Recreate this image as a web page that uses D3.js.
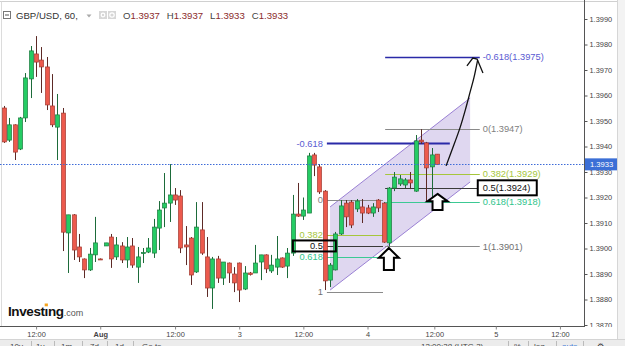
<!DOCTYPE html>
<html><head><meta charset="utf-8">
<script src="https://cdn.jsdelivr.net/npm/d3@7"></script>
<style>body{margin:0;background:#fff} svg{display:block} text{font-family:"Liberation Sans",Arial,sans-serif}</style>
</head><body><svg id="c" width="625" height="346"></svg>
<script>
// ---------- data ----------
const opens  = [1.39551,1.39425,1.39485,1.39390,1.39512,1.39665,1.39763,1.39739,1.39712,1.39559,
1.39476,1.39531,1.39061,1.39132,1.39006,1.38959,1.38916,1.38975,1.38959,1.39010,
1.39045,1.38967,1.39010,1.38955,1.39010,1.38927,1.38982,1.38986,1.38982,1.39080,
1.39159,1.39178,1.39210,1.39206,1.39014,1.39041,1.38908,1.39073,1.38967,1.38845,
1.38959,1.38884,1.38943,1.38900,1.38943,1.38841,1.38904,1.38904,1.38947,1.38975,
1.38912,1.38927,1.38963,1.38931,1.38982,1.39135,1.39127,1.39139,1.39367,1.39320,
1.39225,1.38876,1.38916,1.39057,1.39178,1.39182,1.39155,1.39163,1.39159,1.39139,
1.39190,1.39178,1.39022,1.39237,1.39253,1.39249,1.39269,1.39225,1.39425,1.39414,
1.39320,1.3937];
const highs  = [1.39559,1.39512,1.39487,1.39516,1.39688,1.39794,1.39833,1.39790,1.39751,1.39684,
1.39606,1.39551,1.39132,1.39135,1.39057,1.38961,1.39002,1.39124,1.38961,1.39022,
1.39057,1.39045,1.39025,1.39045,1.39041,1.39006,1.39002,1.39041,1.39116,1.39186,
1.39296,1.39331,1.39237,1.39229,1.39088,1.39045,1.39182,1.39182,1.39045,1.38967,
1.38971,1.38947,1.38945,1.38927,1.38945,1.38931,1.38908,1.39014,1.38975,1.38977,
1.38975,1.39049,1.38965,1.39002,1.39210,1.39257,1.39200,1.39375,1.39375,1.39331,
1.39229,1.38943,1.39065,1.39190,1.39190,1.39190,1.39194,1.39194,1.39171,1.39178,
1.39194,1.39182,1.39241,1.39300,1.39288,1.39276,1.39300,1.39445,1.39468,1.39418,
1.39394,1.3937];
const lows   = [1.39414,1.39418,1.39347,1.39386,1.39496,1.39590,1.39673,1.39610,1.39543,1.39476,
1.39347,1.38990,1.38904,1.38955,1.38947,1.38884,1.38912,1.38947,1.38955,1.39010,
1.38924,1.38955,1.38943,1.38924,1.38924,1.38865,1.38943,1.38982,1.38963,1.38994,
1.39084,1.39104,1.39171,1.38982,1.38935,1.38857,1.38904,1.38975,1.38810,1.38763,
1.38865,1.38857,1.38865,1.38829,1.38790,1.38837,1.38894,1.38904,1.38876,1.38904,
1.38904,1.38896,1.38924,1.38884,1.38971,1.39124,1.39112,1.39139,1.39284,1.39214,
1.38837,1.38849,1.38914,1.39053,1.39084,1.39080,1.39143,1.39100,1.39135,1.39124,
1.39143,1.39022,1.39008,1.39225,1.39245,1.39237,1.39233,1.39222,1.39410,1.39186,
1.39167,1.3933];
const closes = [1.39418,1.39485,1.39378,1.39512,1.39669,1.39775,1.39731,1.39712,1.39563,1.39485,
1.39524,1.39064,1.39132,1.38994,1.38967,1.38916,1.38978,1.39022,1.38957,1.39022,
1.38959,1.39014,1.38955,1.39006,1.38935,1.38967,1.38984,1.39002,1.39084,1.39151,
1.39178,1.39210,1.39190,1.39002,1.39006,1.38896,1.39084,1.38982,1.38845,1.38959,
1.38884,1.38947,1.38904,1.38865,1.38837,1.38904,1.38898,1.38943,1.38975,1.38920,
1.38935,1.38959,1.38927,1.38982,1.39135,1.39127,1.39151,1.39363,1.39327,1.39222,
1.38873,1.38935,1.39057,1.39167,1.39124,1.39092,1.39186,1.39139,1.39139,1.39163,
1.39159,1.39025,1.39237,1.39280,1.39273,1.39269,1.39257,1.39422,1.39418,1.39316,
1.39367,1.3933];

const xTickPos    = [6,18,32,44,56,68,80.5,92,104];
const xTickLabels = ["12:00","Aug","12:00","3","12:00","4","12:00","5","12:00"];
const yTicks      = [1.3870,1.3880,1.3890,1.3900,1.3910,1.3920,1.3930,1.3940,1.3950,1.3960,1.3970,1.3980,1.3990];
const lastPrice   = 1.3933;
const headerSymbol= "GBP/USD, 60,";
const headerOHLC  = [["O","1.3937"],["H","1.3937"],["L","1.3933"],["C","1.3933"]];

const fibLevels   = [-0.618,0,0.382,0.5,0.618,1];
const fibLeft     = {p0:1.3919, p1:1.3883, i0:60.4, i1:70.9};
const fibRight    = {p0:1.39468, p1:1.39008, i0:71.3, i1:89.0};
const fibLeftBlueEnd = 83.4;

const channelIdx   = [61,61,87.2,87.2];
const channelPrice = [1.38837,1.39163,1.39590,1.39261];

const curveIdx   = [82.7,83.8,85.3,86.4,87.2,87.9,88.6];
const curvePrice = [1.39324,1.39386,1.39473,1.39551,1.39614,1.39669,1.39739];
const headIdx    = [86.6,87.7,88.5,89.6];
const headPrice  = [1.39716,1.39747,1.39743,1.39688];

const upArrowIdx  = [72.0,81.1];
const upArrowTip  = [1.39002,1.39214];
const upArrowBase = [1.38916,1.39151];

const toolbarLeft  = ["10y","1y","1m","7d","1d","Go to..."];
const toolbarRight = ["12:00:38 (UTC-3)","%","log","auto","⚙"];

// ---------- scales ----------
const svg = d3.select("#c");
const x = d3.scaleLinear().domain([-0.75,108.5]).range([0,584]);
const y = d3.scaleLinear().domain([1.3870,1.3990]).range([325,19]);

svg.append("rect").attr("width",625).attr("height",346).attr("fill","#fff");
svg.append("rect").attr("x",617).attr("y",0).attr("width",8).attr("height",340).attr("fill","#f3f3f3");
svg.append("line").attr("x1",617.5).attr("x2",617.5).attr("y1",0).attr("y2",340).attr("stroke","#d6d6d6");
svg.append("line").attr("x1",0).attr("x2",617).attr("y1",1.5).attr("y2",1.5).attr("stroke","#d0d0d0");
svg.append("line").attr("x1",1.5).attr("x2",1.5).attr("y1",1.5).attr("y2",327).attr("stroke","#dcdcdc");

// ---------- header ----------
const hdr = svg.append("g");
hdr.append("rect").attr("x",3.5).attr("y",11.5).attr("width",7).attr("height",7).attr("fill","none").attr("stroke","#777");
hdr.append("line").attr("x1",5).attr("x2",9).attr("y1",15).attr("y2",15).attr("stroke","#555");
hdr.append("text").attr("x",16).attr("y",19).attr("font-size",9.6).attr("fill","#333").text(headerSymbol);
hdr.append("path").attr("d","M86.5,14.5 L91.5,14.5 L89,17.5Z").attr("fill","#aaa");
[99,108].forEach((ix,k)=>{
  hdr.append("rect").attr("x",ix).attr("y",11).attr("width",8).attr("height",8).attr("fill","#d7d7d7");
  hdr.append("circle").attr("cx",ix+4).attr("cy",15).attr("r",k?2.2:1.8).attr("fill","none").attr("stroke","#fff").attr("stroke-width",1.2);
});
const ht = hdr.append("text").attr("x",123).attr("y",19).attr("font-size",9.6);
headerOHLC.forEach((d,k)=>{
  ht.append("tspan").attr("fill","#444").attr("dx",k?7:0).text(d[0]);
  ht.append("tspan").attr("fill","#8b2c2c").text(d[1]);
});

// ---------- channel ----------
const chPts = channelIdx.map((v,i)=>[x(v),y(channelPrice[i])]);
svg.append("path").attr("d","M"+chPts.map(p=>p.join(",")).join("L")+"Z")
  .attr("fill","#c9bde6").attr("fill-opacity",0.6);
svg.append("line").attr("x1",chPts[0][0]).attr("y1",chPts[0][1]).attr("x2",chPts[3][0]).attr("y2",chPts[3][1]).attr("stroke","#9a80d4").attr("stroke-width",1);
svg.append("line").attr("x1",chPts[1][0]).attr("y1",chPts[1][1]).attr("x2",chPts[2][0]).attr("y2",chPts[2][1]).attr("stroke","#9a80d4").attr("stroke-width",1);

// ---------- fib lines ----------
const fibColor = {"-0.618":"#2a2aa8","0":"#8a8a8a","0.382":"#a6c63c","0.5":"#3a3a3a","0.618":"#3cc994","1":"#8a8a8a"};
const fibText  = {"-0.618":"#5a5ad2","0":"#808080","0.382":"#a6c63c","0.5":"#111","0.618":"#30c48c","1":"#707070"};
const fibPrice = (f,l)=> f.p0 - l*(f.p0-f.p1);
fibLevels.forEach(l=>{
  const yy = Math.round(y(fibPrice(fibRight,l)))+0.5;
  svg.append("line").attr("x1",x(fibRight.i0)).attr("x2",x(fibRight.i1)).attr("y1",yy).attr("y2",yy)
    .attr("stroke",fibColor[String(l)]).attr("stroke-width",l===-0.618?1.5:1.2);
});
fibLevels.forEach(l=>{
  const yy = Math.round(y(fibPrice(fibLeft,l)))+0.5;
  const end = l===-0.618 ? fibLeftBlueEnd : fibLeft.i1;
  svg.append("line").attr("x1",x(fibLeft.i0)).attr("x2",x(end)).attr("y1",yy).attr("y2",yy)
    .attr("stroke",fibColor[String(l)]).attr("stroke-width",l===-0.618?2:1.2);
});

// ---------- candles ----------
const cw = 4;
const cg = svg.append("g");
closes.forEach((c,i)=>{
  const o=opens[i], up = c>=o;
  const cx = Math.round(x(i))+0.5;
  const wickCol = up? "#1d6b3a" : "#5d2a26";
  cg.append("line").attr("x1",cx).attr("x2",cx).attr("y1",y(highs[i])).attr("y2",y(lows[i])).attr("stroke",wickCol).attr("stroke-width",1);
  const top = y(Math.max(o,c)), bot = y(Math.min(o,c));
  cg.append("rect").attr("x",cx-cw/2).attr("y",top).attr("width",cw).attr("height",Math.max(1,bot-top))
    .attr("fill",up?"#25cc64":"#ec5a4d").attr("stroke",up?"#1c7a3e":"#a33a30").attr("stroke-width",0.7);
});

// ---------- last price dotted line ----------
svg.append("line").attr("x1",0).attr("x2",584).attr("y1",Math.round(y(lastPrice))+0.5).attr("y2",Math.round(y(lastPrice))+0.5)
  .attr("stroke","#3d6bd8").attr("stroke-width",1).attr("stroke-dasharray","1.5,1.5");

// ---------- fib labels ----------
fibLevels.forEach(l=>{
  const p = fibPrice(fibRight,l), yy = y(p);
  const label = String(l)+"("+p.toFixed(4)+")";
  const tx = x(fibRight.i1)+3;
  if (l===0.5){
    svg.append("rect").attr("x",tx-5).attr("y",yy-7.5).attr("width",59).attr("height",15).attr("fill","#fff").attr("stroke","#000").attr("stroke-width",2);
  }
  svg.append("text").attr("x",tx).attr("y",yy).attr("dy","0.35em").attr("font-size",9.3).attr("fill",fibText[String(l)]).text(label);
});
fibLevels.forEach(l=>{
  const p = fibPrice(fibLeft,l), yy = y(p);
  const tx = x(fibLeft.i0)-4;
  if (l===0.5){
    svg.append("rect").attr("x",tx-30).attr("y",yy-5.5).attr("width",43).attr("height",11).attr("fill","none").attr("stroke","#000").attr("stroke-width",2);
  }
  svg.append("text").attr("x",tx).attr("y",yy).attr("dy","0.35em").attr("text-anchor","end").attr("font-size",9.3).attr("fill",fibText[String(l)]).text(String(l));
});

// ---------- hand-drawn arrow ----------
const ln = d3.line().curve(d3.curveCatmullRom);
svg.append("path").attr("d",ln(curveIdx.map((v,i)=>[x(v),y(curvePrice[i])]))).attr("fill","none").attr("stroke","#111").attr("stroke-width",1.3);
svg.append("path").attr("d",d3.line()(headIdx.map((v,i)=>[x(v),y(headPrice[i])]))).attr("fill","none").attr("stroke","#111").attr("stroke-width",1.3);

// ---------- up arrows ----------
upArrowIdx.forEach((v,i)=>{
  const cx = x(v), ty = y(upArrowTip[i]), by = y(upArrowBase[i]);
  const hw = 10, sw = 5, hh = (by-ty)*0.45;
  const d = `M${cx},${ty}L${cx+hw},${ty+hh}L${cx+sw},${ty+hh}L${cx+sw},${by}L${cx-sw},${by}L${cx-sw},${ty+hh}L${cx-hw},${ty+hh}Z`;
  svg.append("path").attr("d",d).attr("fill","#fff").attr("stroke","#000").attr("stroke-width",2).attr("stroke-linejoin","miter");
});

// ---------- axes ----------
svg.append("defs").append("clipPath").attr("id","yclip").append("rect").attr("x",-5).attr("y",0).attr("width",45).attr("height",327);
const ya = svg.append("g").attr("transform","translate(584.5,0)").append("g").attr("clip-path","url(#yclip)")
  .call(d3.axisRight(y).tickValues(yTicks).tickFormat(d3.format(".4f")).tickSize(3).tickPadding(2));
ya.select(".domain").remove();
ya.selectAll("text").attr("font-size",7.4).attr("fill","#444").attr("font-family","Liberation Sans, Arial, sans-serif");
ya.selectAll(".tick line").attr("stroke","#555");
svg.append("line").attr("x1",584.5).attr("x2",584.5).attr("y1",0).attr("y2",327).attr("stroke","#555");

const xa = svg.append("g").attr("transform","translate(0,326.5)")
  .call(d3.axisBottom(x).tickValues(xTickPos).tickFormat((d,i)=>xTickLabels[i]).tickSize(3).tickPadding(2).tickSizeOuter(0));
xa.select(".domain").attr("stroke","#555").attr("d","M0,0H584.5");
xa.selectAll(".tick line").attr("stroke","#888");
xa.selectAll("text").attr("font-size",7.4).attr("fill","#444").attr("font-family","Liberation Sans, Arial, sans-serif")
  .attr("font-weight",(d,i)=>xTickLabels[i]==="Aug"?"bold":"normal");

// last price tag
const ly = y(lastPrice);
svg.append("rect").attr("x",585).attr("y",ly-6).attr("width",32).attr("height",12).attr("fill","#3c6fd6");
svg.append("text").attr("x",590).attr("y",ly).attr("dy","0.35em").attr("font-size",7.6).attr("fill","#fff").text(lastPrice.toFixed(4));

// ---------- logo ----------
const logo = svg.append("text").attr("x",8).attr("y",316);
logo.append("tspan").attr("font-size",13.5).attr("font-weight","bold").attr("fill","#111").attr("letter-spacing","-0.4").text("Investıng");
logo.append("tspan").attr("font-size",9).attr("fill","#555").text(".com");
const full = logo.node();
const iStart = full.getStartPositionOfChar(6), iEnd = full.getEndPositionOfChar(6);
svg.append("rect").attr("x",(iStart.x+iEnd.x)/2-1.6).attr("y",303.5).attr("width",3.2).attr("height",2.8).attr("fill","#f5a31c");

// ---------- toolbar ----------
svg.append("rect").attr("x",0).attr("y",339.5).attr("width",625).attr("height",7).attr("fill","#ececec");
svg.append("line").attr("x1",0).attr("x2",625).attr("y1",339.5).attr("y2",339.5).attr("stroke","#d4d4d4");
const tlx=[10,36,61,90,115,142], tsep=[31,54,82,107,133];
toolbarLeft.forEach((t,i)=>svg.append("text").attr("x",tlx[i]).attr("y",349).attr("font-size",8).attr("fill","#444").text(t));
tsep.concat([508,528,556,583]).forEach(v=>svg.append("line").attr("x1",v+0.5).attr("x2",v+0.5).attr("y1",341).attr("y2",346).attr("stroke","#bbb"));
const trx=[421,514,534,562,597];
toolbarRight.forEach((t,i)=>svg.append("text").attr("x",trx[i]).attr("y",349).attr("font-size",8).attr("fill",t==="auto"?"#3c78d8":"#444").text(t));
</script></body></html>
